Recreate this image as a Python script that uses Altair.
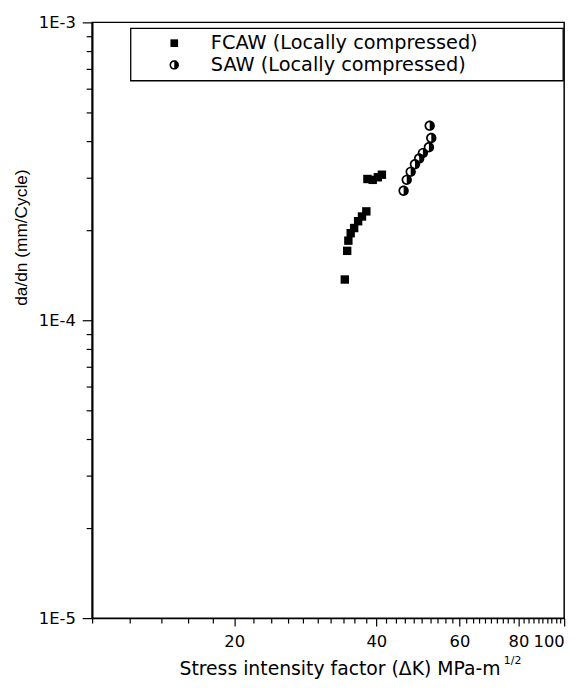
import altair as alt
import pandas as pd

# ---- data ----
fcaw_dk = [34.3, 34.7, 34.9, 35.3, 35.9, 36.6, 37.3, 38.1, 38.3, 39.3, 40.3, 41.1]
fcaw_dadn = [1.37e-4, 1.71e-4, 1.85e-4, 1.96e-4, 2.04e-4, 2.15e-4, 2.23e-4, 2.32e-4,
             2.98e-4, 2.96e-4, 3.02e-4, 3.08e-4]
saw_dk = [45.7, 46.4, 47.3, 48.3, 49.3, 50.2, 51.7, 52.3, 51.9]
saw_dadn = [2.72e-4, 2.96e-4, 3.15e-4, 3.34e-4, 3.49e-4, 3.64e-4, 3.81e-4, 4.09e-4, 4.50e-4]
series_names = ["FCAW (Locally compressed)", "SAW (Locally compressed)"]

x_labels = [20, 40, 60, 80, 100]
y_labels = {0.001: "1E-3", 0.0001: "1E-4", 0.00001: "1E-5"}

# ---- build table ----
df = pd.DataFrame({
    "dk": fcaw_dk + saw_dk,
    "dadn": fcaw_dadn + saw_dadn,
    "series": [series_names[0]] * len(fcaw_dk) + [series_names[1]] * len(saw_dk),
})

HALF = ("M0,-1A1,1,0,0,1,1,0A1,1,0,0,1,0,1A1,1,0,0,1,-1,0A1,1,0,0,1,0,-1Z"
        "M0,-0.68A0.68,0.68,0,0,0,-0.68,0A0.68,0.68,0,0,0,0,0.68Z")

x_ticks = list(range(10, 101, 2))
y_ticks = [k * 10.0 ** e for e in (-5, -4) for k in range(1, 10)] + [1e-3]

x_major = "indexof([20,40,60,80,100], datum.value) >= 0"
y_major = "indexof([0.001,0.0001,0.00001], datum.value) >= 0"

FONT = "DejaVu Sans"

x_axis = alt.Axis(
    values=x_ticks,
    labelExpr=f"{x_major} ? datum.label : ''",
    labelOverlap=False,
    labelFont=FONT, labelFontSize=16.5, labelColor="black", labelPadding=8,
    tickSize={"condition": {"test": x_major, "value": 8}, "value": 5},
    tickColor="black", tickWidth=1.2,
    domainColor="black", domainWidth=1.5,
    grid=False,
    title="Stress intensity factor (\u0394K) MPa-m",
    titleFont=FONT, titleFontSize=19, titleFontWeight="normal", titleColor="black",
    titleX=250, titleY=57, titleAlign="center", titleBaseline="alphabetic",
)
y_axis = alt.Axis(
    values=y_ticks,
    labelExpr=("datum.value == 0.001 ? '1E-3' : datum.value == 0.0001 ? '1E-4' : "
               "datum.value == 0.00001 ? '1E-5' : ''"),
    labelOverlap=False,
    labelFont=FONT, labelFontSize=16.5, labelColor="black", labelPadding=7,
    tickSize={"condition": {"test": y_major, "value": 10}, "value": 6},
    tickColor="black", tickWidth=1.2,
    domainColor="black", domainWidth=1.8,
    grid=False,
    title="da/dn (mm/Cycle)",
    titleFont="Liberation Sans", titleFontSize=17.5, titleFontWeight="normal", titleColor="black",
    titleX=-71, titleY=217, titleAngle=270, titleAlign="center", titleBaseline="middle",
)

points = alt.Chart(df).mark_point(filled=True, color="black", opacity=1, strokeWidth=0).encode(
    x=alt.X("dk:Q", scale=alt.Scale(type="log", domain=[10, 100], nice=False), axis=x_axis),
    y=alt.Y("dadn:Q", scale=alt.Scale(type="log", domain=[1e-5, 1e-3], nice=False), axis=y_axis),
    shape=alt.Shape("series:N", scale=alt.Scale(domain=series_names, range=["square", HALF]), legend=None),
    size=alt.Size("series:N", scale=alt.Scale(domain=series_names, range=[72, 110]), legend=None),
)

one = pd.DataFrame({"a": [0]})
box = alt.Chart(one).mark_rect(fillOpacity=0, stroke="black", strokeWidth=1.3).encode(
    x=alt.value(39), x2=alt.value(476), y=alt.value(6), y2=alt.value(59))
sym1 = alt.Chart(one).mark_point(filled=True, color="black", opacity=1, strokeWidth=0,
                                 shape="square", size=60).encode(x=alt.value(83), y=alt.value(21))
sym2 = alt.Chart(one).mark_point(filled=True, color="black", opacity=1, strokeWidth=0,
                                 shape=HALF, size=90).encode(x=alt.value(83), y=alt.value(43))
lab1 = alt.Chart(one).mark_text(align="left", baseline="middle", font=FONT, fontSize=19.5,
                                color="black").encode(
    x=alt.value(120), y=alt.value(21), text=alt.value(series_names[0]))
lab2 = alt.Chart(one).mark_text(align="left", baseline="middle", font=FONT, fontSize=19.5,
                                color="black").encode(
    x=alt.value(120), y=alt.value(43), text=alt.value(series_names[1]))
sup = alt.Chart(one).mark_text(align="left", baseline="alphabetic", font=FONT, fontSize=11,
                               color="black").encode(
    x=alt.value(416), y=alt.value(648), text=alt.value("1/2"))

chart = alt.layer(points, box, sym1, sym2, lab1, lab2, sup).properties(
    width=477, height=602,
    padding={"left": 85, "top": 11, "right": 16, "bottom": 59},
    autosize=alt.AutoSizeParams(type="none"),
    background="white",
).configure_view(stroke="black", strokeWidth=1.5)

chart.save("out.html", embed_options={"renderer": "svg", "actions": False})
